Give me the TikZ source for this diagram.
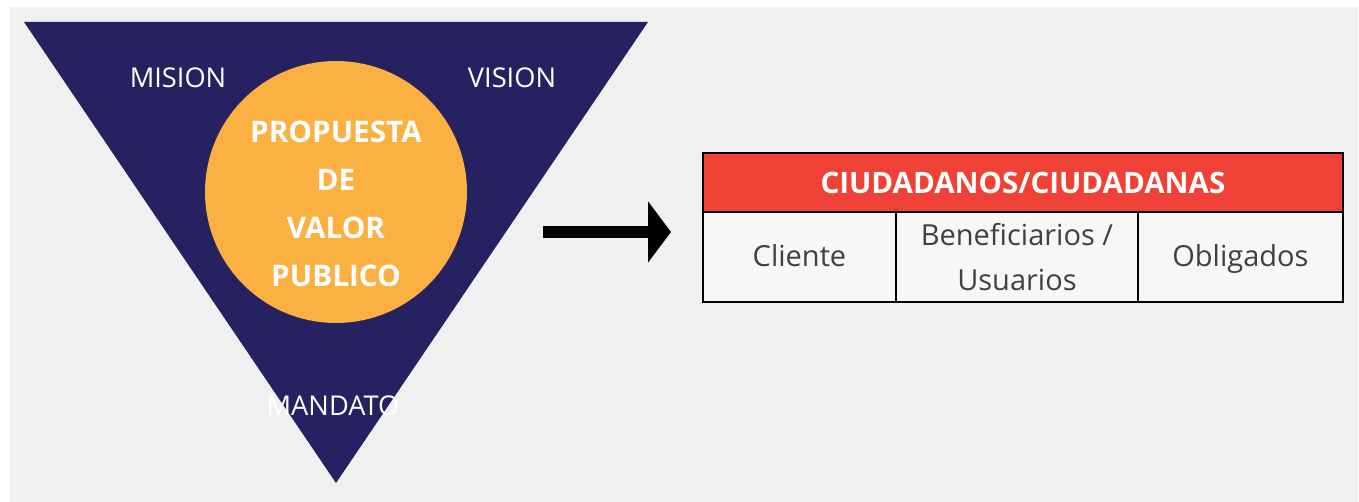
\documentclass[tikz,border=0pt]{standalone}
\usepackage{fontspec}
\setmainfont{Open Sans}
\usetikzlibrary{positioning,arrows.meta}
\definecolor{navy}{HTML}{262262}
\definecolor{valorfill}{HTML}{FBB042}
\definecolor{headred}{HTML}{EF4136}
\definecolor{panel}{HTML}{F0F0F0}
\definecolor{cellfill}{HTML}{F7F7F7}
\definecolor{celltext}{HTML}{404040}

\begin{document}
\begin{tikzpicture}[
			x=0.02cm,y=-0.02cm,
			label/.style={
				text=white,
				font=\fontsize{15.5}{18}\selectfont,
				anchor=base
			},
			head/.style={
				draw=black,
				line width=1.1pt,
				fill=headred,
				text=white,
				font=\bfseries\fontsize{16.8}{20}\selectfont,
				minimum width=12.8cm,
				minimum height=1.18cm,
				outer sep=0pt,
				inner sep=0pt
			},
			cell/.style={
				draw=black,
				line width=1.1pt,
				fill=cellfill,
				text=celltext,
				font=\fontsize{16.5}{26}\selectfont,
				minimum height=1.8cm,
				outer sep=0pt,
				inner sep=0pt,
				align=center
			},
			arrow/.style={
				-{Triangle[length=13pt,width=34pt]},
				line width=6.8pt
			}
			]
			
			% Background
			\useasboundingbox (0,0) rectangle (1359,502);
			\fill[panel] (10,7) rectangle (1358,502);
			
			% Triangle and circle
			\fill[navy] (24,22) -- (648,22) -- (336,483) -- cycle;
			\node[circle, fill=valorfill, minimum size=5.24cm, inner sep=0pt] (valor) at (336,192) {};
			\node[text=white, align=center, font=\bfseries\fontsize{16.9}{27.2}\selectfont]
				(valortext) at ([yshift=-0.24cm]valor.center) {PROPUESTA\\DE\\VALOR\\PUBLICO};
			\node[label] (mision) at (178,88) {MISION};
			\node[label] (vision) at (512,88) {VISION};
			\node[label] (mandato) at (333,416) {MANDATO};
			
			% Table
			\node[head, anchor=north west] (ciudadanos) at (703,153) {CIUDADANOS/CIUDADANAS};
			\node[cell, minimum width=3.86cm, anchor=north west] (cliente) at (ciudadanos.south west) {\strut Cliente};
			\node[cell, minimum width=4.84cm, right=0pt of cliente] (benef) {Beneficiarios /\\Usuarios};
			\node[cell, minimum width=4.10cm, right=0pt of benef] (oblig) {\strut Obligados};
			
			% Arrows
			\coordinate (arrstart) at (543,232);
			\coordinate (arrend) at (671,232);
			\draw[arrow] (arrstart) -- (arrend);
			
		\end{tikzpicture}
\end{document}
